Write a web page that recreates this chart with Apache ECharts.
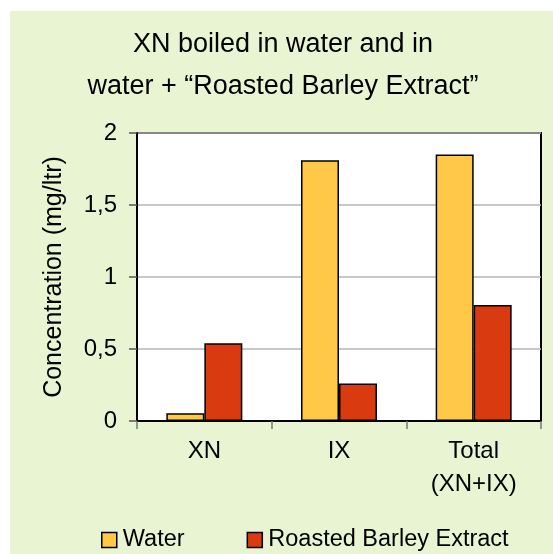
<!DOCTYPE html>
<html>
<head>
<meta charset="utf-8">
<script src="https://cdn.jsdelivr.net/npm/echarts@6/dist/echarts.min.js"></script>
<style>
  body { margin: 0; background: #fff; }
  #bg { position: absolute; left: 10px; top: 11px; right: 0; bottom: 0; background: #e9f5d2; }
  #main { position: absolute; left: 0; top: 0; width: 553px; height: 554px; }
</style>
</head>
<body>
<div id="bg"></div>
<div id="main"></div>
<script>
// data
var categories = ['XN', 'IX', 'Total\n(XN+IX)'];
var water = [0.053, 1.81, 1.85];
var roasted = [0.54, 0.26, 0.805];
var seriesNames = ['Water', 'Roasted Barley Extract'];

var font = 'Liberation Sans, Arial, sans-serif';
var myChart = echarts.init(document.getElementById('main'));

var option = {
  backgroundColor: 'transparent',
  textStyle: { fontFamily: font, color: '#000' },
  title: {
    text: 'XN boiled in water and in\nwater + \u201cRoasted Barley Extract\u201d',
    left: 283,
    textAlign: 'center',
    top: 24,
    padding: 0,
    textStyle: { fontFamily: font, fontSize: 27, fontWeight: 'normal', color: '#000', lineHeight: 42 }
  },
  legend: {
    left: 96,
    top: 523,
    itemWidth: 15,
    itemHeight: 15,
    itemGap: 62,
    icon: 'rect',
    textStyle: { fontFamily: font, fontSize: 23.5, color: '#000', padding: [0, 0, 0, 1] },
    itemStyle: { borderColor: '#000', borderWidth: 1.5 },
    data: seriesNames
  },
  grid: {
    left: 137,
    top: 133,
    right: 12,
    bottom: 133,
    show: true,
    backgroundColor: '#fff',
    borderColor: '#000',
    borderWidth: 2
  },
  xAxis: {
    type: 'category',
    data: categories,
    axisLine: { lineStyle: { color: '#000', width: 2 } },
    axisTick: { show: true, length: 8, lineStyle: { color: '#777', width: 1.5 } },
    axisLabel: { fontFamily: font, fontSize: 24, color: '#000', margin: 14, lineHeight: 33 }
  },
  yAxis: {
    type: 'value',
    min: 0,
    max: 2,
    interval: 0.5,
    name: 'Concentration (mg/ltr)',
    nameLocation: 'middle',
    nameGap: 70,
    nameTextStyle: { fontFamily: font, fontSize: 25, color: '#000' },
    axisLine: { show: true, lineStyle: { color: '#000', width: 2 } },
    axisTick: { show: true, length: 8, lineStyle: { color: '#555', width: 1.5 } },
    axisLabel: {
      fontFamily: font, fontSize: 24, color: '#000', margin: 20,
      formatter: function (v) { return String(v).replace('.', ','); }
    },
    splitLine: { lineStyle: { color: '#b4b4b4', width: 1.5 } }
  },
  series: [
    {
      name: seriesNames[0],
      type: 'bar',
      data: water,
      barWidth: 38,
      barGap: '0%',
      itemStyle: { color: '#ffc846', borderColor: '#000', borderWidth: 1.5 }
    },
    {
      name: seriesNames[1],
      type: 'bar',
      data: roasted,
      barWidth: 38,
      itemStyle: { color: '#d93a10', borderColor: '#000', borderWidth: 1.5 }
    }
  ]
};

myChart.setOption(option);
</script>
</body>
</html>
